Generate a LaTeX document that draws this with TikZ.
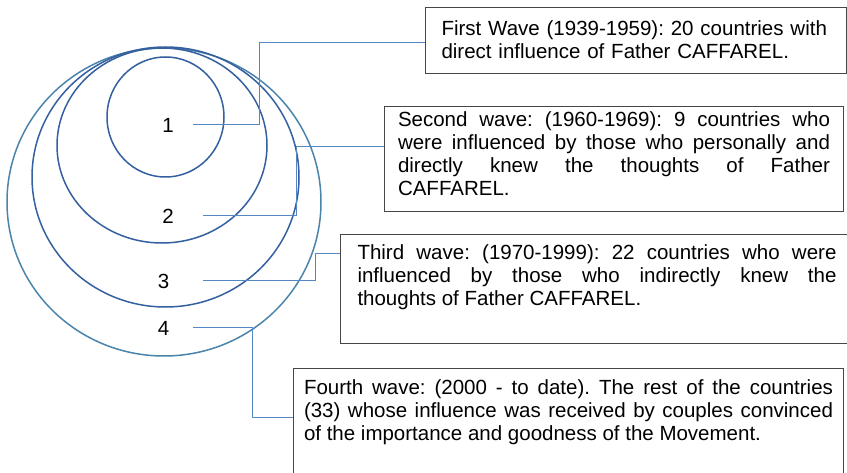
\documentclass[tikz,border=0pt]{standalone}
\usepackage{fontspec}
\setmainfont{Liberation Sans}
\frenchspacing
\definecolor{circdark}{RGB}{52,96,160}
\definecolor{circlight}{RGB}{74,132,172}
\definecolor{connblue}{RGB}{85,135,195}
\definecolor{boxgray}{RGB}{70,70,70}
\begin{document}
\begin{tikzpicture}[x=1pt,y=-1pt,
  ring/.style={line width=1.5pt},
  conn/.style={connblue, line width=1pt},
  wavebox/.style={draw=boxgray, line width=1pt, anchor=north west,
    inner ysep=0pt, font=\fontsize{20.5}{23}\selectfont\frenchspacing},
  num/.style={font=\fontsize{20.5}{23}\selectfont, inner sep=0pt, minimum height=20pt}
]
\useasboundingbox (0,0) rectangle (847,473);
\clip (0,0) rectangle (847,473);
\fill[white] (0,0) rectangle (847,473);

% circles
\draw[ring, circlight] (164,202) ellipse [x radius=157pt, y radius=154pt];
\draw[ring, circdark] (165.5,177) ellipse [x radius=133.5pt, y radius=130pt];
\draw[ring, circdark] (162,145.5) ellipse [x radius=105pt, y radius=97.5pt];
\draw[ring, circdark] (165.5,117) ellipse [x radius=58.5pt, y radius=60pt];

% number labels
\node[num, minimum width=50pt] (l1) at (168,125) {1};
\node[num, minimum width=70pt] (l2) at (168,216) {2};
\node[num, minimum width=79pt] (l3) at (163.5,281) {3};
\node[num, minimum width=59pt] (l4) at (163.5,328) {4};

% boxes
\node[wavebox, inner xsep=16pt, text width=389pt, align=left,
      text height=28pt, text depth=38pt] (b1) at (425,7)
  {First Wave (1939-1959): 20 countries with\\direct influence of Father CAFFAREL.};
\node[wavebox, inner xsep=13.5pt, text width=432pt, align=justify,
      text height=20pt, text depth=85pt] (b2) at (384,106)
  {Second wave: (1960-1969): 9 countries who\linebreak were influenced by those who personally and\linebreak directly knew the thoughts of Father\linebreak CAFFAREL.};
\node[wavebox, inner xsep=17pt, text width=479pt, align=justify,
      text height=25pt, text depth=84pt] (b3) at (340,234)
  {Third wave: (1970-1999): 22 countries who were\linebreak influenced by those who indirectly knew the\linebreak thoughts of Father CAFFAREL.};
\node[wavebox, inner xsep=10.5pt, text width=529pt, align=justify,
      text height=26pt, text depth=100pt] (b4) at (293,368)
  {Fourth wave: (2000 - to date). The rest of the countries\linebreak (33) whose influence was received by couples convinced\linebreak of the importance and goodness of the Movement.};

% connectors
\draw[conn] (l1.east) -- ++(66,0) |- ([yshift=-2.5pt]b1.west);
\draw[conn] (l2.east) -- ++(93,0) |- ([yshift=12.5pt]b2.west);
\draw[conn] (l3.east) -- ++(112,0) |- ([yshift=35.8pt]b3.west);
\draw[conn] (l4.east) -- ++(59,0) |- ([yshift=14pt]b4.west);
\end{tikzpicture}
\end{document}
